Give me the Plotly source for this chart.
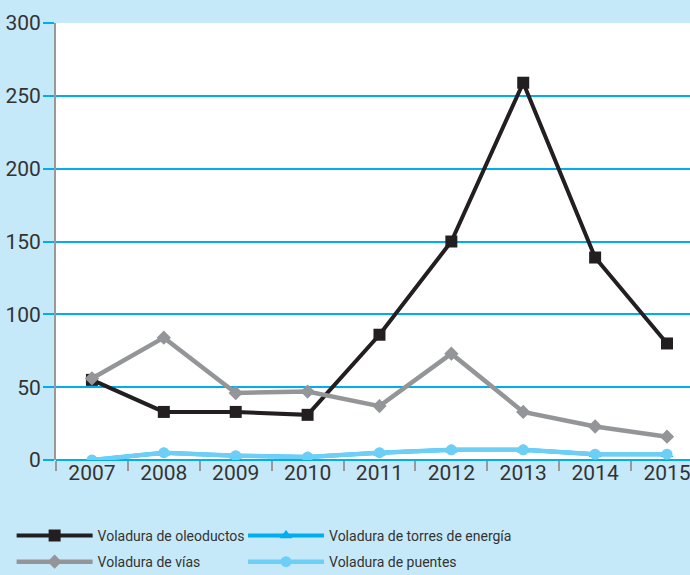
import plotly.graph_objects as go

years = ["2007", "2008", "2009", "2010", "2011", "2012", "2013", "2014", "2015"]
oleoductos = [55, 33, 33, 31, 86, 150, 259, 139, 80]
vias = [56, 84, 46, 47, 37, 73, 33, 23, 16]
torres = [0, 5, 3, 2, 5, 7, 7, 4, 4]
puentes = [0, 5, 3, 2, 5, 7, 7, 4, 4]
y_ticks = [0, 50, 100, 150, 200, 250, 300]

FONT = "Roboto, sans-serif"
BG = "#c6e9f9"
GRID = "#00aeef"

fig = go.Figure()
fig.add_trace(go.Scatter(x=years, y=oleoductos, name="Voladura de oleoductos",
                         mode="lines+markers", line=dict(color="#231f20", width=4),
                         marker=dict(symbol="square", size=12, color="#231f20"),
                         legend="legend", legendgroup="g1", legendrank=1))
fig.add_trace(go.Scatter(x=years, y=torres, name="Voladura de torres de energía",
                         mode="lines+markers", line=dict(color="#00aeef", width=4),
                         marker=dict(symbol="triangle-up", size=11, color="#00aeef"),
                         legend="legend2", legendgroup="g2", legendrank=1))
fig.add_trace(go.Scatter(x=years, y=vias, name="Voladura de vías",
                         mode="lines+markers", line=dict(color="#939598", width=4.5),
                         marker=dict(symbol="diamond", size=11, color="#939598"),
                         legend="legend", legendgroup="g3", legendrank=2))
fig.add_trace(go.Scatter(x=years, y=puentes, name="Voladura de puentes",
                         mode="lines+markers", line=dict(color="#6dcff6", width=4.5),
                         marker=dict(symbol="circle", size=11, color="#6dcff6"),
                         legend="legend2", legendgroup="g4", legendrank=2))

leg_common = dict(orientation="v", xanchor="left", y=-0.137, yanchor="top",
                  font=dict(size=14, family=FONT, color="#333333"),
                  itemwidth=76, bgcolor="rgba(0,0,0,0)", tracegroupgap=5,
                  traceorder="grouped")

fig.update_layout(
    width=690, height=575,
    margin=dict(l=56, r=0, t=23, b=115, autoexpand=False),
    paper_bgcolor=BG, plot_bgcolor="white",
    font=dict(family=FONT, color="#333333"),
    showlegend=True,
    legend=dict(x=-0.07, **leg_common),
    legend2=dict(x=0.295, **leg_common),
)
fig.update_xaxes(type="category", range=[-0.5, 8.32], tickson="boundaries",
                 ticks="outside", ticklen=10, tickcolor="#999999", tickwidth=2,
                 ticklabelstandoff=-2, automargin=False,
                 showgrid=False, showline=False, zeroline=False,
                 tickfont=dict(size=21, family=FONT, color="#333333"))
fig.update_yaxes(range=[0, 300], tickvals=y_ticks, showgrid=True, gridcolor=GRID, gridwidth=2,
                 zeroline=True, zerolinecolor=GRID, zerolinewidth=2,
                 ticks="outside", ticklen=11, tickcolor=GRID, tickwidth=2,
                 ticklabelstandoff=-2, automargin=False,
                 showline=True, linecolor="#999999", linewidth=2,
                 tickfont=dict(size=21, family=FONT, color="#333333"))

fig.write_html("out.html", config={"displayModeBar": False},
               post_script="document.body.style.margin='0';")
